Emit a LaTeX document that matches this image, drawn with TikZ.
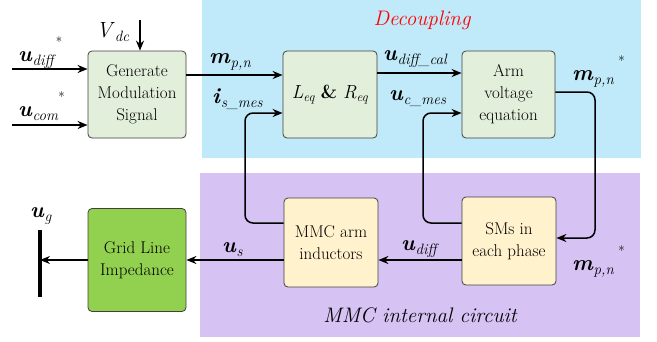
\documentclass[tikz,border=0pt]{standalone}
\usetikzlibrary{arrows.meta}

\definecolor{decblue}{HTML}{C0E9F9}
\definecolor{mmcpurple}{HTML}{D6C2F3}
\definecolor{ctrlgreen}{HTML}{E2EFDA}
\definecolor{circyellow}{HTML}{FFF2CC}
\definecolor{gridgreen}{HTML}{92D050}

\newcommand{\sgn}[2]{\textbf{\textit{#1}}{\fontsize{15}{15}\selectfont\raisebox{-4pt}{\textit{#2}}}}
\newcommand{\sgnstar}{\raisebox{15pt}{\fontsize{13}{13}\selectfont *}}

\tikzset{
  blk/.style={draw=black!75, line width=0.8pt, rounded corners=4pt, align=center,
    inner sep=0pt, font=\fontsize{17}{22}\selectfont},
  ctrl/.style={blk, fill=ctrlgreen},
  circ/.style={blk, fill=circyellow},
  sigline/.style={-{Stealth[length=10pt,width=8pt]}, line width=1.5pt},
  lbl/.style={anchor=base west, inner sep=0pt, font=\fontsize{22}{22}\selectfont}
}

\begin{document}
\begin{tikzpicture}[x=1pt, y=-1pt]
\useasboundingbox (0,0) rectangle (657,341);

% regions
\fill[decblue] (202,0) rectangle (641,158);
\fill[mmcpurple] (200,173) rectangle (640,337);
\node[red, font=\fontsize{21}{21}\selectfont\itshape] (dectext) at (422,20) {Decoupling};
\node[font=\fontsize{21}{21}\selectfont\itshape] (mmctext) at (420,315) {MMC internal circuit};

% blocks
\node[ctrl, minimum width=98pt, minimum height=87pt] (gen) at (137,94.5) {Generate\\Modulation\\Signal};
\node[ctrl, minimum width=94pt, minimum height=87pt, font=\fontsize{19}{22}\selectfont] (leq) at (330,94.5)
  {\textit{L}{\fontsize{13}{13}\selectfont\raisebox{-3pt}{\textit{eq}}} \textbf{\&} \textit{R}{\fontsize{13}{13}\selectfont\raisebox{-3pt}{\textit{eq}}}};
\node[ctrl, minimum width=93pt, minimum height=87pt] (arm) at (508.5,94.5) {Arm\\voltage\\equation};
\node[blk, fill=gridgreen, minimum width=98pt, minimum height=103pt] (grid) at (137,260) {Grid Line\\Impedance};
\node[circ, minimum width=94pt, minimum height=89pt] (ind) at (331,242.5) {MMC arm\\inductors};
\node[circ, minimum width=94pt, minimum height=88pt] (sms) at (509,241) {SMs in\\each phase};

% free ends
\coordinate (udin) at (12,69);
\coordinate (ucin) at (12,125);
\coordinate (vdcin) at (140,20);
\coordinate (bustop) at (40,230);
\coordinate (busbot) at (40,297);

% connectors
\draw[sigline] (udin) -- (gen.west |- udin);
\draw[sigline] (ucin) -- (gen.west |- ucin);
\draw[sigline] (vdcin) -- (gen.north -| vdcin);
\draw[sigline] (gen.east |- 0,75) -- (leq.west |- 0,75);
\draw[sigline] (leq.east |- 0,73) -- (arm.west |- 0,73);
\draw[sigline, rounded corners=8pt] (ind.west |- 0,223) -| (245,113) -- (leq.west |- 0,113);
\draw[sigline, rounded corners=8pt] (sms.west |- 0,223) -| (423,113) -- (arm.west |- 0,113);
\draw[sigline, rounded corners=8pt] (arm.east |- 0,92) -| (595,238) -- (sms.east |- 0,238);
\draw[sigline] (sms.west |- 0,260) -- (ind.east |- 0,260);
\draw[sigline] (ind.west |- 0,260) -- (grid.east);
\draw[sigline] (grid.west) -- (bustop |- grid.west);
\draw[line width=4pt] (bustop) -- (busbot);

% labels
\node[lbl] (ludiff) at (18,61) {\sgn{u}{diff}\sgnstar};
\node[lbl] (lucom) at (18,116) {\sgn{u}{com}\sgnstar};
\node[lbl] (lvdc) at (96,37) {\textit{V}{\fontsize{15}{15}\selectfont\raisebox{-4pt}{\textit{dc}}}};
\node[lbl] (lmpn) at (209,63) {\sgn{m}{p,n}};
\node[lbl] (lismes) at (212,103) {\sgn{i}{s\_mes}};
\node[lbl] (ludcal) at (383,60) {\sgn{u}{diff\_cal}};
\node[lbl] (lucmes) at (389,100) {\sgn{u}{c\_mes}};
\node[lbl] (lmpnt) at (572,80) {\sgn{m}{p,n}\hspace{4pt}\sgnstar};
\node[lbl] (lmpnb) at (572,270) {\sgn{m}{p,n}\hspace{4pt}\sgnstar};
\node[lbl] (ludiffb) at (401,250) {\sgn{u}{diff}};
\node[lbl] (lus) at (222,252) {\sgn{u}{s}};
\node[lbl] (lug) at (30,217) {\sgn{u}{g}};
\end{tikzpicture}
\end{document}
